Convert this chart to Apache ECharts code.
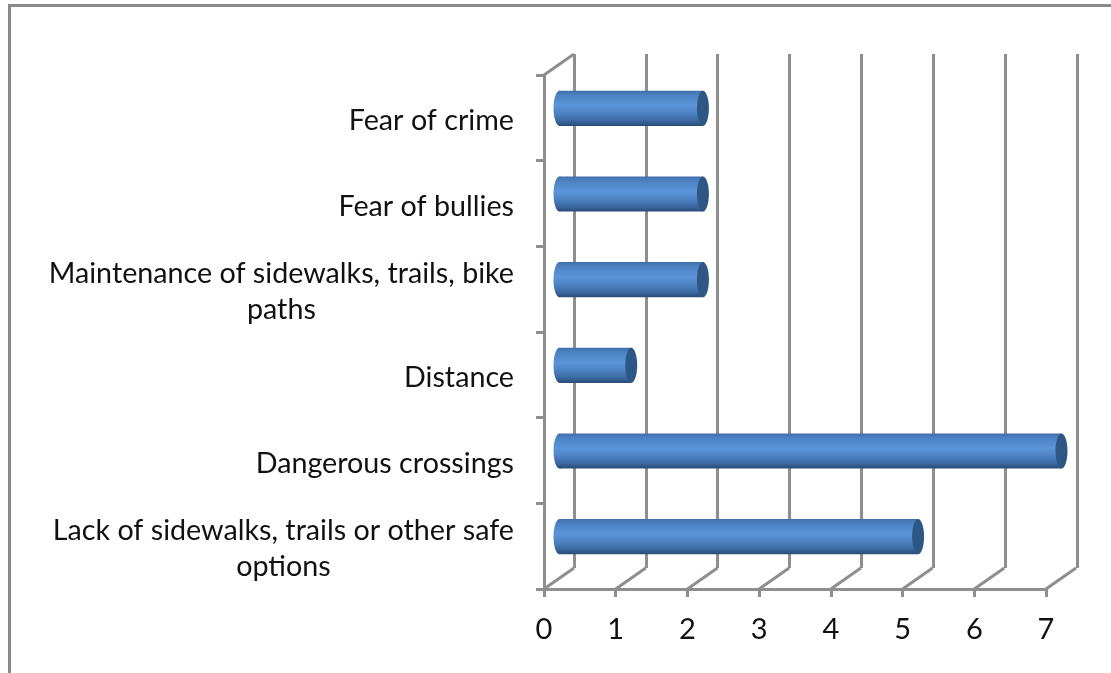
<!DOCTYPE html>
<html>
<head>
<meta charset="utf-8">
<style>html,body{margin:0;padding:0;background:#fff}#c{width:1111px;height:673px}</style>
<script src="https://cdn.jsdelivr.net/npm/echarts@6/dist/echarts.min.js"></script>
</head>
<body>
<div id="c"></div>
<script>
const categories = [
  'Lack of sidewalks, trails or other safe\noptions',
  'Dangerous crossings',
  'Distance',
  'Maintenance of sidewalks, trails, bike\npaths',
  'Fear of bullies',
  'Fear of crime'
];
const values = [5, 7, 1, 2, 2, 2];
const valueTicks = [0, 1, 2, 3, 4, 5, 6, 7];

const GRAY = '#8e8e8e';
const FONT = 'Lato,"Open Sans",sans-serif';
const DEPTH_X = 30, DEPTH_Y = -21;
const LW = 3;

const chart = echarts.init(document.getElementById('c'), null, {renderer: 'canvas'});
chart.setOption({
  animation: false,
  backgroundColor: '#fff',
  graphic: [
    {type: 'rect', shape: {x: 8, y: 4, width: 1103, height: 3}, style: {fill: '#8a8a8a'}},
    {type: 'rect', shape: {x: 8, y: 4, width: 3, height: 669}, style: {fill: '#8a8a8a'}}
  ],
  grid: [
    {left: 544, top: 75, width: 502, height: 514},
    {left: 574, top: 54, width: 503, height: 514}
  ],
  xAxis: [
    {
      type: 'value', gridIndex: 0, min: 0, max: 7, interval: 1,
      axisLine: {show: true, lineStyle: {color: GRAY, width: LW}},
      axisTick: {show: true, length: 8, lineStyle: {color: GRAY, width: LW}},
      splitLine: {show: false},
      axisLabel: {fontFamily: FONT, fontSize: 29, color: '#111', margin: 26,
        formatter: v => String(valueTicks[v])}
    },
    {
      type: 'value', gridIndex: 1, min: 0, max: 7, interval: 1,
      axisLine: {show: false}, axisTick: {show: false}, axisLabel: {show: false},
      splitLine: {show: true, lineStyle: {color: GRAY, width: LW}}
    }
  ],
  yAxis: [
    {
      type: 'category', gridIndex: 0, data: categories,
      axisLine: {show: true, lineStyle: {color: GRAY, width: LW}},
      axisTick: {show: true, length: 8, lineStyle: {color: GRAY, width: LW}},
      splitLine: {show: false},
      axisLabel: {
        interval: 0, margin: 30, align: 'right', padding: [6, 0, 0, 0],
        fontFamily: FONT, fontSize: 28.7, color: '#111',
        formatter: v => v.split('\n').map(l => '{c|' + l + '}').join('\n'),
        rich: {c: {align: 'center', fontFamily: FONT, fontSize: 28.7, lineHeight: 36, color: '#111'}}
      }
    },
    {
      type: 'category', gridIndex: 1, data: categories, show: false
    }
  ],
  series: [
    {
      type: 'custom', xAxisIndex: 0, yAxisIndex: 0, silent: true, z: 1,
      data: valueTicks.map(v => [v]),
      encode: {x: 0},
      renderItem(params, api) {
        const cs = params.coordSys;
        const x = api.coord([api.value(0), 0])[0];
        const b = cs.y + cs.height;
        const children = [{
          type: 'line',
          shape: {x1: x, y1: b, x2: x + DEPTH_X, y2: b + DEPTH_Y},
          style: {stroke: GRAY, lineWidth: LW}
        }];
        if (api.value(0) === 0) {
          children.push({
            type: 'line',
            shape: {x1: x, y1: cs.y, x2: x + DEPTH_X, y2: cs.y + DEPTH_Y},
            style: {stroke: GRAY, lineWidth: LW}
          });
        }
        return {type: 'group', children};
      }
    },
    {
      type: 'custom', xAxisIndex: 0, yAxisIndex: 0, silent: true, z: 3,
      data: values.map((v, i) => [v, i]),
      encode: {x: 0, y: 1},
      renderItem(params, api) {
        const end = api.coord([api.value(0), api.value(1)]);
        const start = api.coord([0, api.value(1)]);
        const h = api.size([0, 1])[1] * 0.41;
        const dx = DEPTH_X / 2 + 0.5, dy = DEPTH_Y / 2 + 1, rx = 6;
        const x0 = start[0] + dx, x1 = end[0] + dx, cy = end[1] + dy;
        const fill = new echarts.graphic.LinearGradient(0, 0, 0, 1, [
          {offset: 0, color: '#3f6fa9'},
          {offset: 0.12, color: '#4c82c2'},
          {offset: 0.42, color: '#5b94d8'},
          {offset: 0.62, color: '#4f85c6'},
          {offset: 0.85, color: '#3b69a2'},
          {offset: 1, color: '#2a4b78'}
        ]);
        return {type: 'group', children: [
          {type: 'ellipse', shape: {cx: x0, cy, rx, ry: h / 2}, style: {fill}},
          {type: 'rect', shape: {x: x0, y: cy - h / 2, width: x1 - x0, height: h}, style: {fill}},
          {type: 'ellipse', shape: {cx: x1, cy, rx, ry: h / 2}, style: {fill: '#2f5786'}}
        ]};
      }
    }
  ]
});
</script>
</body>
</html>
